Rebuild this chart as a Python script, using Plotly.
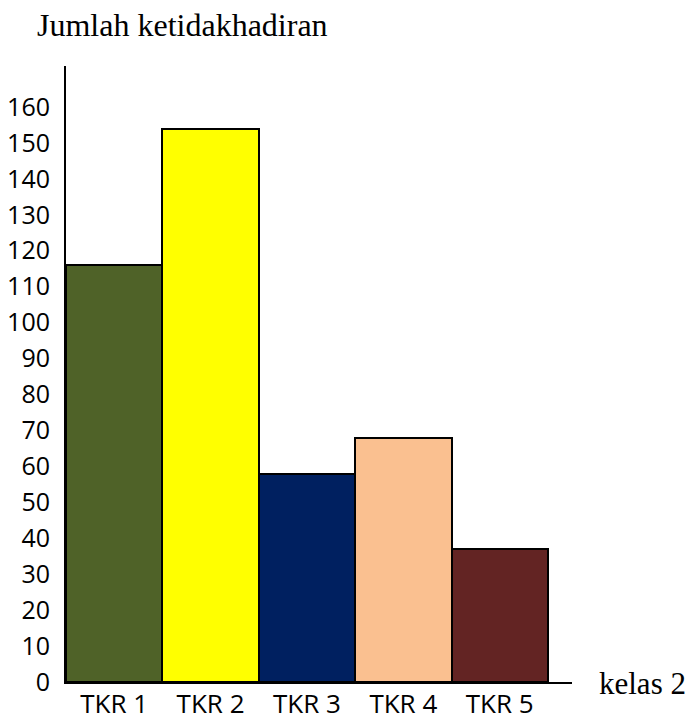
import plotly.graph_objects as go

categories = ["TKR 1", "TKR 2", "TKR 3", "TKR 4", "TKR 5"]
values = [116, 154, 58, 68, 37]
colors = ["#4F6228", "#FFFF00", "#002060", "#FAC090", "#632423"]
y_ticks = [0, 10, 20, 30, 40, 50, 60, 70, 80, 90, 100, 110, 120, 130, 140, 150, 160]
y_title = "Jumlah ketidakhadiran"
x_title = "kelas 2"

W, H = 689, 716
PLOT_L, PLOT_R, PLOT_T, PLOT_B = 66, 572, 66, 682
L, T, R, B = PLOT_L, PLOT_T, W - PLOT_R, H - PLOT_B
pw = PLOT_R - PLOT_L
ph = PLOT_B - PLOT_T


def px(x):
    return (x - PLOT_L) / pw


def py(y):
    return (PLOT_B - y) / ph


fig = go.Figure(go.Bar(
    x=categories, y=values,
    marker=dict(color=colors, line=dict(color="black", width=2)),
    hoverinfo="x+y",
))

fig.update_layout(
    width=W, height=H,
    margin=dict(l=L, r=R, t=T, b=B, pad=0, autoexpand=False),
    paper_bgcolor="white", plot_bgcolor="white",
    bargap=0, showlegend=False,
    font=dict(family="Open Sans", size=25, color="black"),
    xaxis=dict(
        type="category", range=[-0.5, 4.75], automargin=False,
        showline=True, linecolor="black", linewidth=2,
        showgrid=False, zeroline=False, ticks="",
        ticklabelstandoff=-2,
        tickfont=dict(family="Open Sans", size=26, color="black"),
    ),
    yaxis=dict(
        range=[0, 171.4], automargin=False,
        tickmode="array", tickvals=y_ticks, ticktext=[str(v) for v in y_ticks],
        showline=True, linecolor="black", linewidth=2,
        showgrid=False, zeroline=False, ticks="",
        ticklabelstandoff=9,
        tickfont=dict(family="Open Sans", size=25, color="black"),
    ),
    annotations=[
        dict(text=y_title, xref="paper", yref="paper",
             x=px(35), y=py(25),
             xanchor="left", yanchor="middle", showarrow=False,
             font=dict(family="Liberation Serif", size=32, color="black")),
        dict(text=x_title, xref="paper", yref="paper",
             x=px(597), y=py(683),
             xanchor="left", yanchor="middle", showarrow=False,
             font=dict(family="Liberation Serif", size=31, color="black")),
    ],
)

fig.write_html(
    "out.html",
    config={"displayModeBar": False},
    post_script="document.body.style.margin='0';document.body.style.overflow='hidden';",
)
